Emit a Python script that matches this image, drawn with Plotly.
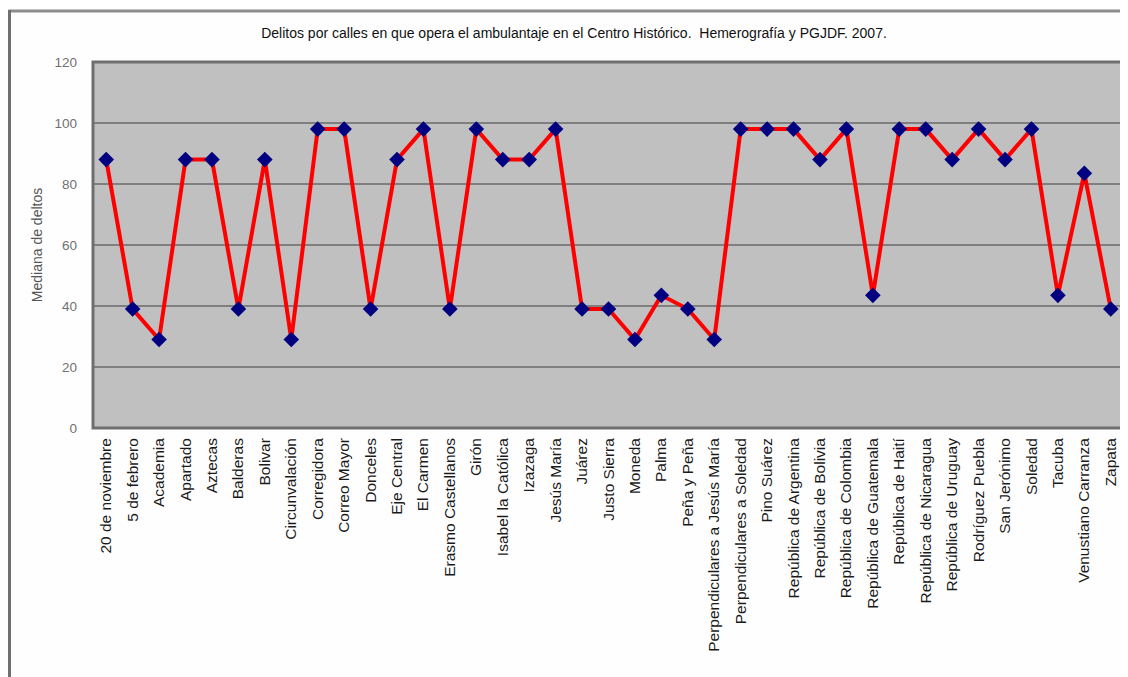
import plotly.graph_objects as go

calles = [
    "20 de noviembre", "5 de febrero", "Academia", "Apartado", "Aztecas",
    "Balderas", "Bolivar", "Circunvalación", "Corregidora", "Correo Mayor",
    "Donceles", "Eje Central", "El Carmen", "Erasmo Castellanos", "Girón",
    "Isabel la Católica", "Izazaga", "Jesús María", "Juárez", "Justo Sierra",
    "Moneda", "Palma", "Peña y Peña", "Perpendiculares a Jesús María",
    "Perpendiculares a Soledad", "Pino Suárez", "República de Argentina",
    "República de Bolivia", "República de Colombia", "República de Guatemala",
    "República de Haití", "República de Nicaragua", "República de Uruguay",
    "Rodríguez Puebla", "San Jerónimo", "Soledad", "Tacuba",
    "Venustiano Carranza", "Zapata",
]
mediana = [
    88, 39, 29, 88, 88,
    39, 88, 29, 98, 98,
    39, 88, 98, 39, 98,
    88, 88, 98, 39, 39,
    29, 43.5, 39, 29,
    98, 98, 98,
    88, 98, 43.5,
    98, 98, 88,
    98, 88, 98, 43.5,
    83.5, 39,
]
y_ticks = [0, 20, 40, 60, 80, 100, 120]

titulo = "Delitos por calles en que opera el ambulantaje en el Centro Histórico.  Hemerografía y PGJDF. 2007."
y_titulo = "Mediana de deltos"

FONT = "Liberation Sans, Arial, sans-serif"

fig = go.Figure()
fig.add_trace(go.Scatter(
    x=list(range(len(calles))), y=mediana, mode="lines+markers",
    line=dict(color="#FF0000", width=4),
    marker=dict(symbol="diamond", size=12, color="#000080"),
    showlegend=False,
))

# page has an 8px body margin: figure coords = page coords - 8
OFF = 8
W, H = 1128 - OFF, 677 - OFF
L, T = 93 - OFF, 62 - OFF
R = W - (1124 - OFF)
B = H - (428 - OFF)
pw, ph = W - L - R, H - T - B

def px(x):
    return (x - OFF - L) / pw

def py(y):
    return (H - B - (y - OFF)) / ph

shapes = [
    # outer frame lines
    dict(type="line", xref="paper", yref="paper", x0=px(8.5), x1=px(1130), y0=py(11), y1=py(11),
         line=dict(color="#8c8c8c", width=3), layer="above"),
    dict(type="line", xref="paper", yref="paper", x0=px(9.5), x1=px(9.5), y0=py(10), y1=py(680),
         line=dict(color="#707070", width=3), layer="above"),
    # plot area border
    dict(type="rect", xref="paper", yref="paper", x0=0, x1=1, y0=0, y1=1,
         line=dict(color="#6e6e6e", width=3), layer="above"),
]

fig.update_layout(
    width=W, height=H,
    margin=dict(l=L, r=R, t=T, b=B),
    paper_bgcolor="#FEFEFE",
    plot_bgcolor="#C0C0C0",
    title=dict(text=titulo, x=(574 - OFF) / W, xanchor="center", y=1 - (33 - OFF) / H, yanchor="middle",
               font=dict(family=FONT, size=14, color="#111111")),
    font=dict(family=FONT),
    shapes=shapes,
    xaxis=dict(
        tickmode="array", tickvals=list(range(len(calles))), ticktext=calles,
        tickangle=-90, range=[-0.5, len(calles) - 0.5],
        showgrid=False, zeroline=False, showline=False, ticks="",
        ticklabelstandoff=6,
        tickfont=dict(family=FONT, size=15.5, color="#1a1a1a"),
    ),
    yaxis=dict(
        range=[0, 120], tickmode="array", tickvals=y_ticks,
        showgrid=True, gridcolor="#7f7f7f", gridwidth=2, zeroline=False,
        showline=False, ticks="", ticklabelstandoff=15,
        tickfont=dict(family=FONT, size=13.5, color="#707070"),
        title=dict(text=y_titulo, font=dict(family=FONT, size=14, color="#555555"), standoff=8),
    ),
)

fig.write_html("out.html")
